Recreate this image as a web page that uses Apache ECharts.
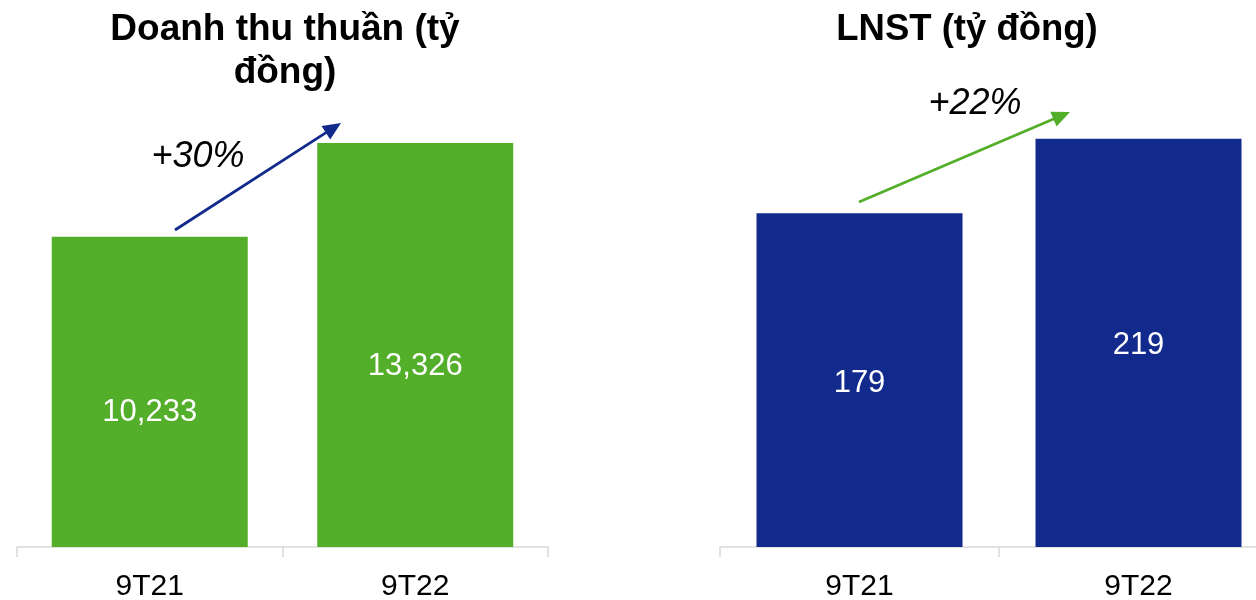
<!DOCTYPE html>
<html>
<head>
<meta charset="utf-8">
<script src="https://cdn.jsdelivr.net/npm/echarts@6/dist/echarts.min.js"></script>
<style>
html,body{margin:0;padding:0;background:#fff;}
#c{width:1256px;height:600px;}
</style>
</head>
<body>
<div id="c"></div>
<script>
const categories = ['9T21', '9T22'];
const revenue = [10233, 13326];
const profit = [179, 219];
const revenueTitle = 'Doanh thu thuần (tỷ\nđồng)';
const profitTitle = 'LNST (tỷ đồng)';
const revenueGrowth = '+30%';
const profitGrowth = '+22%';

const GREEN = '#53AE29';
const BLUE = '#112A8C';
const FONT = 'Liberation Sans, Arial, sans-serif';

function fmt(v){ return v.toLocaleString('en-US'); }

function arrow(x1, y1, x2, y2, color){
  const dx = x2 - x1, dy = y2 - y1;
  const len = Math.sqrt(dx*dx + dy*dy);
  const ux = dx/len, uy = dy/len;
  const hl = 18, hw = 8;
  const bx = x2 - ux*hl, by = y2 - uy*hl;
  const px = -uy, py = ux;
  return [
    {type:'line', shape:{x1:x1, y1:y1, x2:bx+ux*2, y2:by+uy*2}, style:{stroke:color, lineWidth:2.8}, silent:true},
    {type:'polygon', shape:{points:[[x2,y2],[bx+px*hw, by+py*hw],[bx-px*hw, by-py*hw]]}, style:{fill:color}, silent:true}
  ];
}

const chart = echarts.init(document.getElementById('c'));
const axisCommon = {
  type:'category',
  axisLine:{show:true, lineStyle:{color:'#D9D9D9', width:1.5}},
  axisTick:{show:true, length:10, lineStyle:{color:'#D9D9D9', width:1.5}},
  axisLabel:{color:'#000', fontSize:30, fontFamily:FONT, margin:25}
};
chart.setOption({
  animation:false,
  title:[
    {text:revenueTitle, left:280, top:3, textAlign:'center',
     textStyle:{fontSize:37, fontWeight:'bold', color:'#000', fontFamily:FONT, lineHeight:43}},
    {text:profitTitle, left:962, top:3, textAlign:'center',
     textStyle:{fontSize:36.5, fontWeight:'bold', color:'#000', fontFamily:FONT, lineHeight:43}}
  ],
  grid:[
    {left:17, width:531, top:62, bottom:53, outerBoundsMode:'none', containLabel:false},
    {left:720, width:558, top:81, bottom:53, outerBoundsMode:'none', containLabel:false}
  ],
  xAxis:[
    Object.assign({gridIndex:0, data:categories}, axisCommon),
    Object.assign({gridIndex:1, data:categories}, axisCommon)
  ],
  yAxis:[
    {gridIndex:0, type:'value', min:0, max:16000, show:false},
    {gridIndex:1, type:'value', min:0, max:250, show:false}
  ],
  series:[
    {type:'bar', xAxisIndex:0, yAxisIndex:0, data:revenue, barWidth:196,
     itemStyle:{color:GREEN},
     label:{show:true, position:'inside', offset:[0,21], color:'#fff', fontSize:31, fontFamily:FONT,
            formatter:p=>fmt(p.value)}},
    {type:'bar', xAxisIndex:1, yAxisIndex:1, data:profit, barWidth:206,
     itemStyle:{color:BLUE},
     label:{show:true, position:'inside', offset:[0,3], color:'#fff', fontSize:31, fontFamily:FONT,
            formatter:p=>fmt(p.value)}}
  ],
  graphic:[
    ...arrow(175, 230, 341, 123, BLUE),
    ...arrow(859, 202, 1070, 112, GREEN),
    {type:'text', x:198, y:157, style:{text:revenueGrowth, font:'italic 36px '+FONT, fill:'#000', align:'center', verticalAlign:'middle'}, silent:true},
    {type:'text', x:975, y:104, style:{text:profitGrowth, font:'italic 36px '+FONT, fill:'#000', align:'center', verticalAlign:'middle'}, silent:true}
  ]
});
</script>
</body>
</html>
